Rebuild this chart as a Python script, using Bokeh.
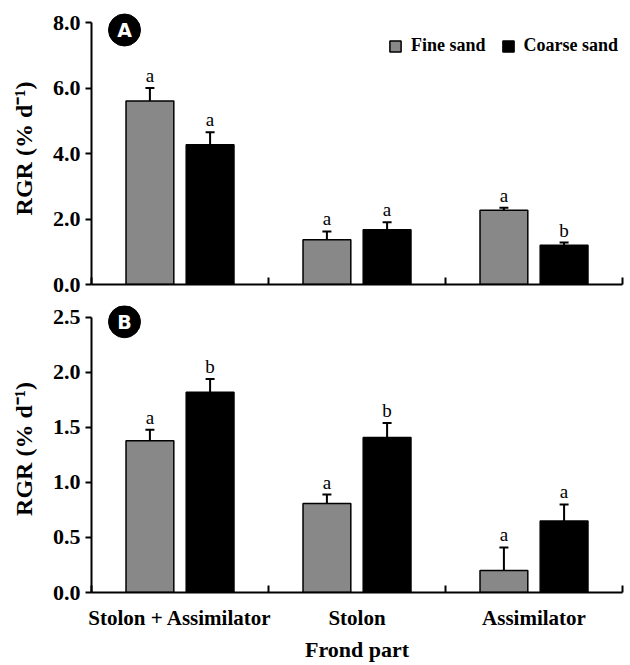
from bokeh.plotting import figure
from bokeh.layouts import column
from bokeh.models import (Range1d, FixedTicker, NumeralTickFormatter, Whisker,
                          ColumnDataSource, Legend, LegendItem, TeeHead)
from bokeh.embed import file_html
from bokeh.resources import INLINE
from bokeh.core.properties import value

# ---------------- data ----------------
categories = ["Stolon + Assimilator", "Stolon", "Assimilator"]
treatments = ["Fine sand", "Coarse sand"]

a_fine = [5.60, 1.37, 2.27]
a_fine_se = [0.40, 0.25, 0.07]
a_coarse = [4.27, 1.67, 1.20]
a_coarse_se = [0.38, 0.23, 0.08]
a_fine_letters = ["a", "a", "a"]
a_coarse_letters = ["a", "a", "b"]

b_fine = [1.38, 0.81, 0.20]
b_fine_se = [0.10, 0.08, 0.21]
b_coarse = [1.82, 1.41, 0.65]
b_coarse_se = [0.12, 0.13, 0.15]
b_fine_letters = ["a", "a", "a"]
b_coarse_letters = ["b", "b", "a"]

a_ticks = [0, 2, 4, 6, 8]
b_ticks = [0, 0.5, 1.0, 1.5, 2.0, 2.5]

y_label = "RGR (% d\u207b\u00b9)"
x_label = "Frond part"

# ---------------- style ----------------
SERIF = "Liberation Serif"
FINE_COLOR = "#888888"
COARSE_COLOR = "#000000"
W = 630
LEFT = 91
RIGHT = 8
BAR_W = 0.27
OFF = 0.17


def make_panel(fine, fine_se, coarse, coarse_se, fl, cl, ymax, ticks,
               top, extra, data_h, bottom, badge, show_x):
    n = len(categories)
    height = top + extra + data_h + bottom
    # range extends `extra` pixels above ymax so the badge is not clipped;
    # the axis line itself stops at ymax via `bounds`.
    y_end = ymax * (data_h + extra) / data_h
    p = figure(width=W, height=height, x_range=Range1d(0, n),
               y_range=Range1d(0, y_end), output_backend="svg",
               toolbar_location=None, min_border_left=LEFT,
               min_border_right=RIGHT, min_border_top=top,
               min_border_bottom=bottom)
    p.outline_line_color = None
    p.grid.visible = False
    p.background_fill_color = "white"
    frame_w = W - LEFT - RIGHT

    renderers = []
    for vals, se, letters, sign, color in (
            (fine, fine_se, fl, -1, FINE_COLOR),
            (coarse, coarse_se, cl, 1, COARSE_COLOR)):
        xs = [i + 0.5 + sign * OFF for i in range(n)]
        src = ColumnDataSource(dict(
            x=xs, top=vals, upper=[v + e for v, e in zip(vals, se)],
            lab=letters))
        r = p.vbar(x="x", top="top", width=BAR_W, source=src,
                   fill_color=color, line_color="black", line_width=1.5)
        renderers.append(r)
        w = Whisker(source=src, base="x", lower="top", upper="upper",
                    line_width=2, line_color="black",
                    upper_head=TeeHead(size=9, line_width=2,
                                       line_color="black"),
                    lower_head=None)
        p.add_layout(w)
        p.text(x="x", y="upper", text="lab", source=src,
               text_align="center", text_baseline="bottom", y_offset=-2,
               text_font=value(SERIF), text_font_size="19px",
               text_color="black")

    # panel badge (pixel offset from the top-left corner of the axes box)
    bx = n * 33.0 / frame_w
    by = ymax - ymax * badge[1] / data_h
    p.scatter(x=[bx], y=[by], size=32, color="black")
    p.text(x=[bx], y=[by], text=[badge[0]], text_color="white",
           text_font=value("DejaVu Sans"), text_font_style="bold",
           text_font_size="19px", text_align="center",
           text_baseline="middle")

    # y axis
    ya = p.yaxis[0]
    ya.bounds = (0, ymax)
    ya.ticker = FixedTicker(ticks=ticks)
    ya.formatter = NumeralTickFormatter(format="0.0")
    ya.axis_line_width = 2
    ya.major_tick_line_width = 2
    ya.major_tick_out = 6
    ya.major_tick_in = 0
    ya.minor_tick_line_color = None
    ya.major_label_standoff = 5
    ya.major_label_text_font = SERIF
    ya.major_label_text_font_style = "bold"
    ya.major_label_text_font_size = "22px"
    ya.major_label_text_color = "black"
    ya.axis_label = y_label
    ya.axis_label_text_font = SERIF
    ya.axis_label_text_font_style = "bold"
    ya.axis_label_text_font_size = "24px"
    ya.axis_label_text_color = "black"
    ya.axis_label_standoff = 13

    # x axis
    xa = p.xaxis[0]
    xa.axis_line_width = 2
    xa.major_tick_line_color = None
    xa.minor_tick_in = 7
    xa.minor_tick_out = 0
    xa.minor_tick_line_width = 2
    if show_x:
        xa.ticker = FixedTicker(ticks=[i + 0.5 for i in range(n)],
                                minor_ticks=list(range(n + 1)))
        xa.major_label_overrides = {i + 0.5: c for i, c in enumerate(categories)}
        xa.major_label_text_font = SERIF
        xa.major_label_text_font_style = "bold"
        xa.major_label_text_color = "black"
        xa.major_label_text_font_size = "21px"
        xa.major_label_standoff = 7
        xa.axis_label = x_label
        xa.axis_label_text_font = SERIF
        xa.axis_label_text_font_style = "bold"
        xa.axis_label_text_font_size = "22px"
        xa.axis_label_text_color = "black"
        xa.axis_label_standoff = 4
    else:
        xa.ticker = FixedTicker(ticks=[], minor_ticks=list(range(n + 1)))
        xa.major_label_text_font_size = "0px"
        xa.major_label_standoff = 0
    return p, renderers


pA, rA = make_panel(a_fine, a_fine_se, a_coarse, a_coarse_se,
                    a_fine_letters, a_coarse_letters, 8.0, a_ticks,
                    12, 10, 262, 20, ("A", 7.5), False)
pB, rB = make_panel(b_fine, b_fine_se, b_coarse, b_coarse_se,
                    b_fine_letters, b_coarse_letters, 2.5, b_ticks,
                    1, 12, 276, 71, ("B", 4.3), True)

legend = Legend(items=[LegendItem(label=treatments[0], renderers=[rA[0]]),
                       LegendItem(label=treatments[1], renderers=[rA[1]])],
                orientation="horizontal", location=(297, 228),
                border_line_color=None, background_fill_alpha=0,
                padding=0, margin=0, spacing=15, label_standoff=9,
                glyph_width=14, glyph_height=14,
                label_text_font=SERIF, label_text_font_style="bold",
                label_text_font_size="18px", label_text_color="black")
pA.add_layout(legend)

layout = column(pA, pB)
open("out.html", "w").write(file_html(layout, INLINE))
